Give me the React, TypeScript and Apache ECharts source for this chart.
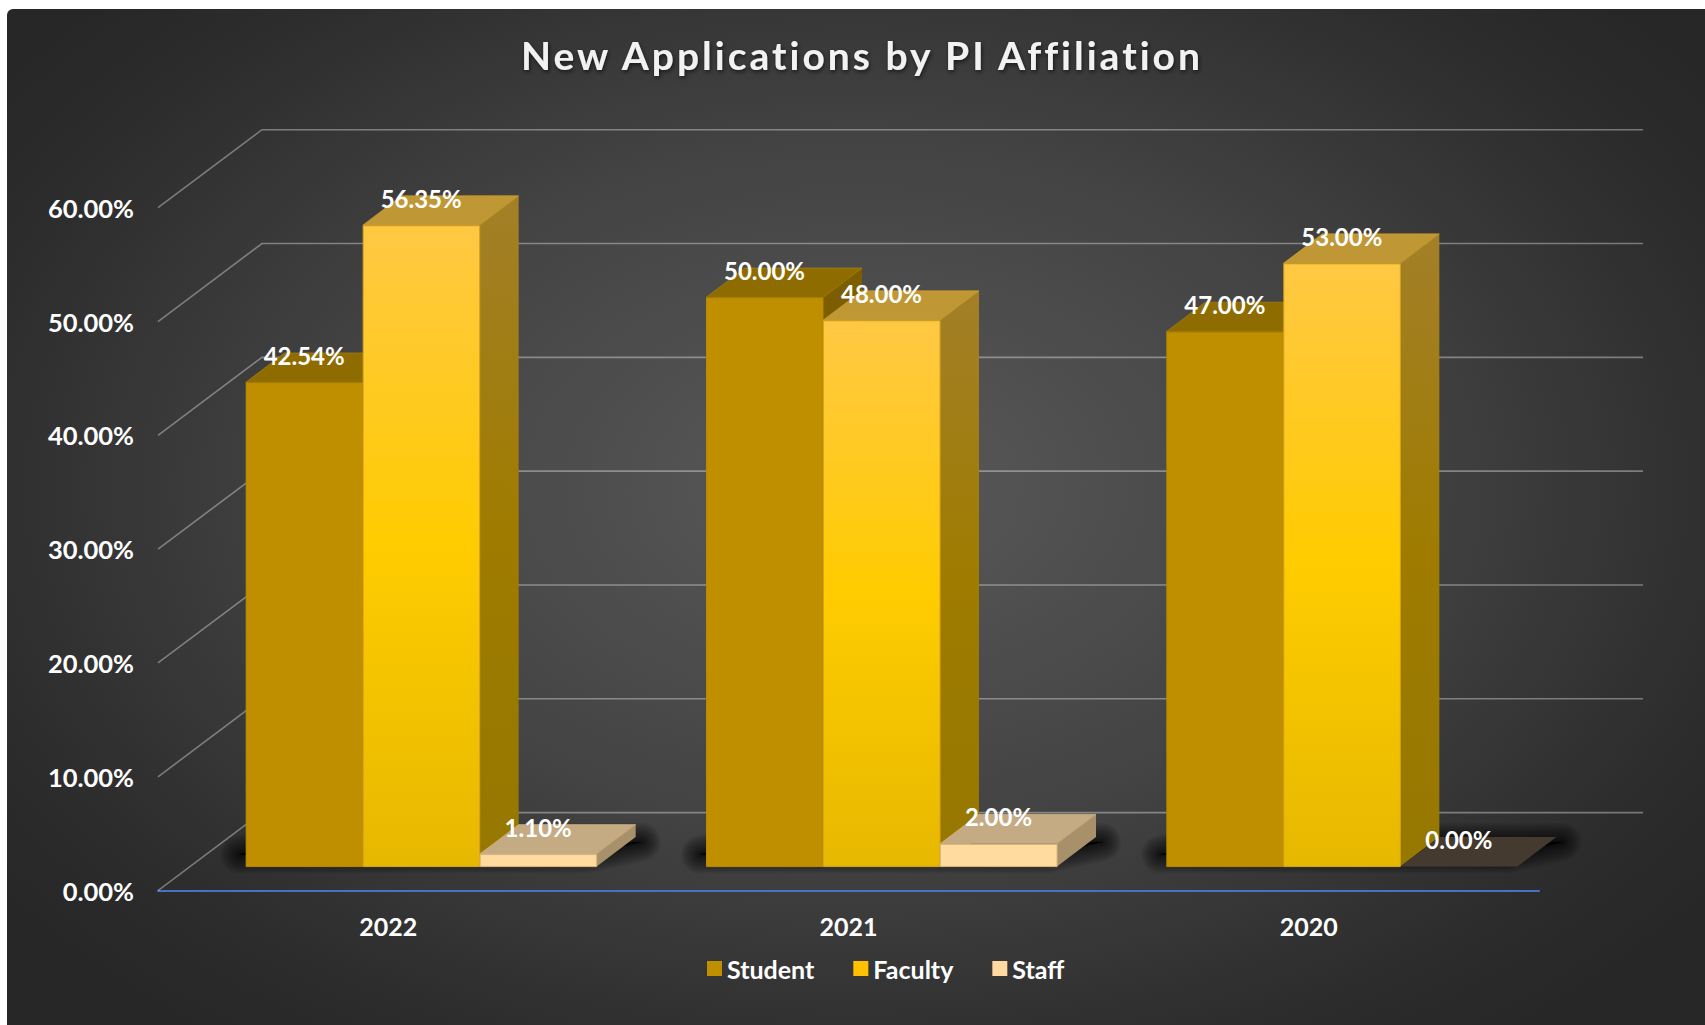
import React, { useEffect, useRef } from "react";
import * as echarts from "echarts";

const titleText = "New Applications by PI Affiliation";
const categories = ["2022", "2021", "2020"];
const studentValues = [42.54, 50.0, 47.0];
const facultyValues = [56.35, 48.0, 53.0];
const staffValues = [1.1, 2.0, 0.0];
const gridTicks = [0, 10, 20, 30, 40, 50, 60];
const seriesNames = ["Student", "Faculty", "Staff"];

const FONT = "Lato";
const BAR_OFFSET = [33, -24];
const BAR_DEPTH = [39, -29.5];
const WALL_DEPTH = [104, -78];
const BAR_SHARE = 117 / 460.33;
const SHADOW_LAYERS = [38, 35, 32, 29, 26, 23, 20, 17, 14, 11, 9, 7, 5, 3, 1];

const vGrad = (stops: [number, string][]) =>
  new echarts.graphic.LinearGradient(0, 0, 0, 1, stops.map(([offset, color]) => ({ offset, color })));

const faces = [
  {
    front: () => "#BF8F00",
    top: "#8F6C00",
    side: () => "#7C5E00",
    edge: "#B88A00",
  },
  {
    front: () => vGrad([[0, "#FFC843"], [0.5, "#FFCC00"], [1, "#E6B800"]]),
    top: "#C09735",
    side: () => vGrad([[0, "#A37F28"], [0.5, "#9F7C00"], [1, "#967700"]]),
    edge: "#D9A520",
  },
  {
    front: () => "#FFDB9F",
    top: "#C4AB84",
    side: () => "#A8906A",
    edge: "#D8B880",
  },
];

function barRenderer(si: number) {
  return (params: any, api: any) => {
    const cat = api.value(0);
    const val = api.value(1);
    const base = api.coord([cat, 0]);
    const top = api.coord([cat, val]);
    const w = api.size([1, 0])[0] * BAR_SHARE;
    const x0 = base[0] + BAR_OFFSET[0] + (si - 1.5) * w;
    const x1 = x0 + w;
    const by = base[1] + BAR_OFFSET[1];
    const ty = top[1] + BAR_OFFSET[1];
    const [dx, dy] = BAR_DEPTH;
    const f = faces[si];
    const z = (si + 1) * 10;
    const zero = val === 0;
    const children: any[] = [];
    if (!zero) {
      children.push({
        type: "polygon",
        z2: z,
        shape: { points: [[x1, ty], [x1 + dx, ty + dy], [x1 + dx, by + dy], [x1, by]] },
        style: { fill: f.side() },
      });
      children.push({
        type: "rect",
        z2: z + 1,
        shape: { x: x0 + 0.5, y: ty + 0.5, width: w - 0.5, height: by - ty - 0.5 },
        style: { fill: f.front(), stroke: f.edge, lineWidth: 1 },
      });
    }
    children.push({
      type: "polygon",
      z2: z + 2,
      shape: { points: [[x0, ty], [x0 + dx, ty + dy], [x1 + dx, ty + dy], [x1, ty]] },
      style: zero ? { fill: "#453A30" } : { fill: f.top, stroke: f.edge, lineWidth: 0.6 },
    });
    children.push({
      type: "text",
      z2: 100,
      x: (x0 + x1) / 2,
      y: ty - 27,
      style: {
        text: val.toFixed(2) + "%",
        fill: "#FFFFFF",
        fontFamily: FONT,
        fontWeight: "bold",
        fontSize: 24,
        textAlign: "center",
        textVerticalAlign: "middle",
      },
    });
    return { type: "group", children };
  };
}

function wallRenderer(params: any, api: any) {
  const y = api.coord([0, api.value(1)])[1];
  const cs = params.coordSys;
  const [dx, dy] = WALL_DEPTH;
  return {
    type: "polyline",
    z2: 0,
    shape: {
      points: [
        [cs.x, y],
        [cs.x + dx, y + dy],
        [cs.x + cs.width + dx, y + dy],
      ],
    },
    style: { fill: "none", stroke: "rgba(255,255,255,0.36)", lineWidth: 1.6 },
  };
}

function shadowRenderer(params: any, api: any) {
  const base = api.coord([api.value(0), 0]);
  const w = api.size([1, 0])[0] * BAR_SHARE;
  const x0 = base[0] + BAR_OFFSET[0] - 1.5 * w;
  const x1 = x0 + 3 * w;
  const by = base[1] + BAR_OFFSET[1] - 12;
  const [dx, dy] = BAR_DEPTH;
  const points = [
    [x0 - 6, by],
    [x1 - 12, by],
    [x1 + dx + 6, by + dy + 17],
    [x0 + dx, by + dy + 17],
  ];
  return {
    type: "group",
    children: SHADOW_LAYERS.map((width) => ({
      type: "polygon",
      z2: 1,
      shape: { points },
      style: {
        fill: "rgba(0,0,0,0.065)",
        stroke: "rgba(0,0,0,0.065)",
        lineWidth: width,
        lineJoin: "round",
      },
    })),
  };
}

export default function App() {
  const ref = useRef<HTMLDivElement>(null);
  useEffect(() => {
    document.body.style.margin = "0";
    document.body.style.background = "#FFFFFF";
    document.body.style.overflow = "hidden";
    const chart = echarts.init(ref.current!, undefined, { renderer: "svg" });
    const pair = (arr: number[]) => arr.map((v, i) => [i, v]);
    chart.setOption({
      animation: false,
      backgroundColor: "transparent",
      title: {
        text: titleText,
        left: 850,
        top: 21,
        textAlign: "center",
        textStyle: {
          color: "#F2F2F2",
          fontFamily: FONT,
          fontWeight: "bold",
          fontSize: 39,
          textShadowColor: "rgba(0,0,0,0.6)",
          textShadowBlur: 4,
          textShadowOffsetX: 1,
          textShadowOffsetY: 2,
        },
      },
      legend: {
        data: seriesNames,
        left: 695,
        top: 942,
        itemWidth: 15,
        itemHeight: 15,
        itemGap: 39,
        icon: "rect",
        selectedMode: false,
        textStyle: { color: "#FFFFFF", fontFamily: FONT, fontWeight: "bold", fontSize: 25 },
      },
      grid: { left: 151, right: 166, top: 198.7, bottom: 134.4, containLabel: false },
      xAxis: {
        type: "category",
        data: categories,
        axisTick: { show: false },
        axisLine: { lineStyle: { color: "#4472C4", width: 2 } },
        axisLabel: { color: "#FFFFFF", fontFamily: FONT, fontWeight: "bold", fontSize: 25, margin: 23 },
        splitLine: { show: false },
      },
      yAxis: {
        type: "value",
        min: 0,
        max: 60,
        interval: 10,
        axisLine: { show: false },
        axisTick: { show: false },
        splitLine: { show: false },
        axisLabel: {
          color: "#FFFFFF",
          fontFamily: FONT,
          fontWeight: "bold",
          fontSize: 25.5,
          margin: 24,
          padding: [2, 0, 0, 0],
          formatter: (v: number) => v.toFixed(2) + "%",
        },
      },
      series: [
        {
          type: "custom",
          name: "walls",
          silent: true,
          renderItem: wallRenderer,
          data: gridTicks.map((v) => [0, v]),
          encode: { x: 0, y: 1 },
        },
        {
          type: "custom",
          name: "floorShadow",
          silent: true,
          renderItem: shadowRenderer,
          data: categories.map((_, i) => [i, 0]),
          encode: { x: 0, y: 1 },
        },
        ...[studentValues, facultyValues, staffValues].map((vals, si) => ({
          type: "custom",
          name: seriesNames[si],
          silent: true,
          renderItem: barRenderer(si),
          itemStyle: { color: ["#BF8F00", "#FFC000", "#FFD9A0"][si] },
          data: pair(vals),
          encode: { x: 0, y: 1 },
        })),
      ],
    });
    return () => chart.dispose();
  }, []);
  return (
    <>
      <style>{`#chart-root svg text[style*="39px"]{letter-spacing:3px}`}</style>
      <div
        id="chart-root"
        ref={ref}
        style={{
          position: "absolute",
          left: 7,
          top: 9,
          width: 1698,
          height: 1016,
          borderTopLeftRadius: 6,
          overflow: "hidden",
          background:
            "radial-gradient(ellipse 62% 68% at 50% 47%, #595959 0%, #434343 50%, #2d2d2d 85%, #272727 100%)",
        }}
      />
    </>
  );
}
